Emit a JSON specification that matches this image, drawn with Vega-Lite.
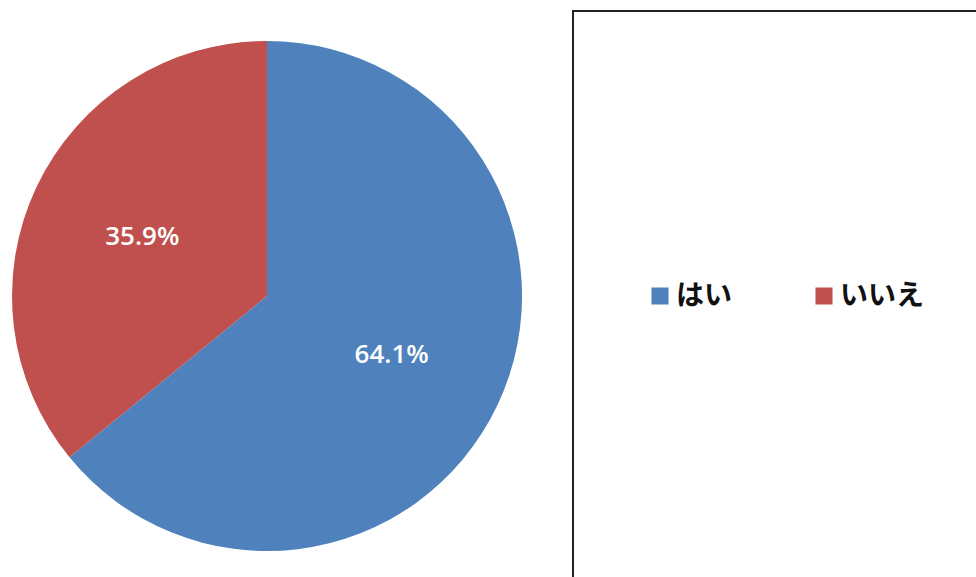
{
  "$schema": "https://vega.github.io/schema/vega-lite/v6.json",
  "padding": {"top": 10, "left": 0, "right": 0, "bottom": 0},
  "background": "white",
  "spacing": 38,
  "config": {"view": {"stroke": null}},
  "data": {"values": [
    {"answer": "はい", "value": 64.1, "label": "64.1%"},
    {"answer": "いいえ", "value": 35.9, "label": "35.9%"}
  ]},
  "hconcat": [
    {
      "width": 534,
      "height": 570,
      "layer": [
        {
          "mark": {"type": "arc", "outerRadius": 255},
          "encoding": {
            "theta": {"field": "value", "type": "quantitative", "stack": true},
            "color": {"field": "answer", "type": "nominal", "scale": {"domain": ["はい", "いいえ"], "range": ["#4F81BD", "#C0504D"]}, "legend": null},
            "order": {"field": "value", "sort": "descending"}
          }
        },
        {
          "mark": {"type": "text", "radius": 138, "font": "Open Sans", "fontSize": 26, "fontWeight": 600, "color": "white"},
          "encoding": {
            "theta": {"field": "value", "type": "quantitative", "stack": true},
            "text": {"field": "label"},
            "order": {"field": "value", "sort": "descending"}
          }
        }
      ]
    },
    {
      "width": 438,
      "height": 570,
      "view": {"stroke": "#222222", "strokeWidth": 2},
      "layer": [
        {
          "mark": {"type": "point", "shape": "square", "filled": true, "size": 290, "opacity": 1},
          "encoding": {
            "x": {"field": "answer", "type": "nominal", "scale": {"domain": ["はい", "いいえ"], "range": [87, 251], "padding": 0}, "axis": null},
            "color": {"field": "answer", "type": "nominal", "scale": {"domain": ["はい", "いいえ"], "range": ["#4F81BD", "#C0504D"]}, "legend": null}
          }
        },
        {
          "mark": {"type": "text", "align": "left", "baseline": "middle", "dx": 16, "dy": 1, "font": "Noto Sans CJK JP", "fontSize": 28, "fontWeight": "bold", "color": "#111111"},
          "encoding": {
            "x": {"field": "answer", "type": "nominal", "scale": {"domain": ["はい", "いいえ"], "range": [87, 251], "padding": 0}, "axis": null},
            "text": {"field": "answer"}
          }
        }
      ]
    }
  ]
}
